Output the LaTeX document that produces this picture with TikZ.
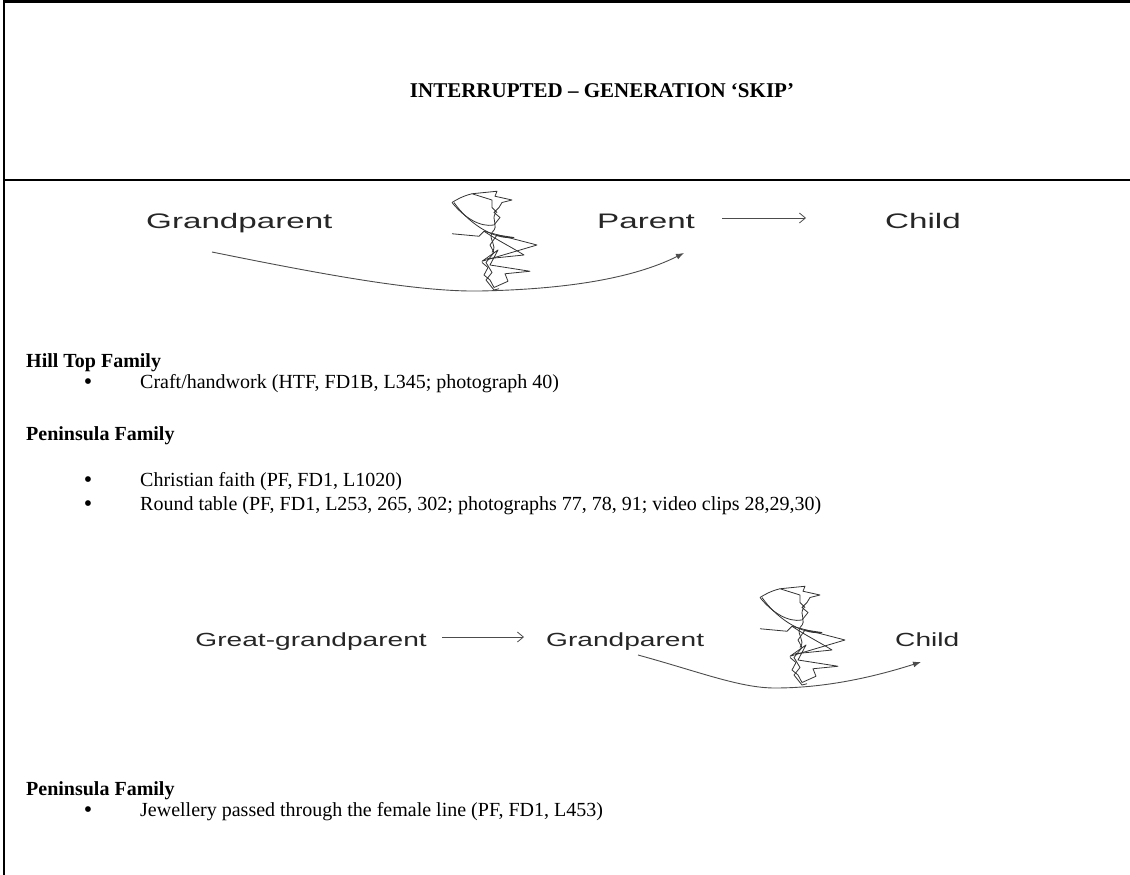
\documentclass[tikz,border=0pt]{standalone}
\usepackage{fontspec}
\usepackage{graphicx}
\setmainfont{Liberation Serif}
\newfontfamily\diagfont{Liberation Sans}
% sans labels of the flow charts are set wide
\newcommand\wideA[1]{\scalebox{1.58}[1]{#1}}
\newcommand\wideB[1]{\scalebox{1.48}[1]{#1}}
\usetikzlibrary{arrows.meta}

\tikzset{
  squiggle/.pic={
    \draw[scrib] (0,35) -- (27,37) -- (32,33) -- (85,44) -- (30,57) -- (46,48)
      -- (38,60) -- (78,65) -- (53,67) -- (56,73) -- (42,78) -- (38,72)
      -- (32,68) -- (36,62) -- (30,58);
    \draw[scrib] (0,10) .. controls (12,22) and (28,30) .. (42,28) -- (48,22)
      -- (42,18) -- (47,14) -- (50,10) -- (60,8) -- (43,5) -- (45,1) -- (20,3)
      -- (40,8) -- (40,14) -- (45,18);
    \draw[scrib] (2,10) .. controls (15,25) and (40,40) .. (62,38) -- (45,36)
      -- (38,44) -- (42,50) -- (34,58) -- (40,66) -- (34,72) -- (42,80) -- (47,79);
    \draw[scrib] (20,3) .. controls (10,5) and (4,8) .. (0,10);
    \draw[scrib] (32,33) .. controls (45,40) and (60,46) .. (72,52) -- (35,55);
    \draw[scrib] (44,18) .. controls (38,24) and (48,28) .. (40,34)
      .. controls (36,40) and (46,44) .. (40,50);
  }
}

\begin{document}
\begin{tikzpicture}[x=1pt,y=-1pt,
  frame/.style={line width=2.6pt},
  titletext/.style={font=\fontsize{21}{24}\selectfont\bfseries, anchor=base, inner sep=0},
  heading/.style={font=\fontsize{20}{23}\selectfont\bfseries, anchor=base west, inner sep=0},
  item/.style={font=\fontsize{20}{23}\selectfont, anchor=base west, inner sep=0},
  bul/.style={font=\fontsize{24}{24}\selectfont, anchor=base, inner sep=0,
    text height=9pt, text depth=0pt},
  genA/.style={font=\diagfont\fontsize{21}{24}\selectfont, inner sep=0, text=black!85},
  genB/.style={font=\diagfont\fontsize{19}{22}\selectfont, inner sep=0, text=black!85},
  flow/.style={draw=black!70, line width=0.8pt, -{Straight Barb[length=6pt,width=10pt]}},
  skip/.style={draw=black!70, line width=0.9pt, -{Latex[length=8pt,width=6pt]}},
  scrib/.style={draw=black!80, line width=0.8pt, line join=round}
]
\useasboundingbox (0,0) rectangle (1130,875);

% table frame
\draw[frame] (4,875) -- (4,1.3) -- (1130,1.3);
\draw[frame] (4,180) -- (1130,180);

% title row
\node[titletext] (title) at (602,98) {INTERRUPTED – GENERATION ‘SKIP’};

% first chain: Grandparent, (break), Parent -> Child
\node[genA, anchor=base west] (gp1) at (146,228) {\wideA{Grandparent}};
\node[genA, anchor=base west] (pa1) at (597,228) {\wideA{Parent}};
\node[genA, anchor=base west] (ch1) at (885,228) {\wideA{Child}};
\pic[yscale=1.25] at (452,190) {squiggle};
\coordinate (a1s) at (722,218);
\coordinate (a1e) at (806,218);
\draw[flow] (a1s) -- (a1e);
\coordinate (k1s) at (212,252);
\coordinate (k1e) at (684,253);
\draw[skip] (k1s) .. controls (330,276) and (420,292) .. (480,291)
  .. controls (580,289) and (640,275) .. (k1e);

% Hill Top Family
\node[heading] (htf) at (26,367) {Hill Top Family};
\node[bul] (b1) at (88,389) {•};
\node[item] (i1) at (140,388) {Craft/handwork (HTF, FD1B, L345; photograph 40)};

% Peninsula Family
\node[heading] (pf1) at (26,440) {Peninsula Family};
\node[bul] (b2) at (88,487) {•};
\node[item] (i2) at (140,486) {Christian faith (PF, FD1, L1020)};
\node[bul] (b3) at (88,511) {•};
\node[item] (i3) at (140,510) {Round table (PF, FD1, L253, 265, 302; photographs 77, 78, 91; video clips 28,29,30)};

% second chain: Great-grandparent -> Grandparent, (break), Child
\node[genB, anchor=base east] (ggp) at (427,646) {\wideB{Great-grandparent}};
\node[genB, anchor=base west] (gp2) at (546,646) {\wideB{Grandparent}};
\node[genB, anchor=base west] (ch2) at (895,646) {\wideB{Child}};
\pic[yscale=1.25] at (760,585) {squiggle};
\coordinate (a2s) at (442,637);
\coordinate (a2e) at (524,637);
\draw[flow] (a2s) -- (a2e);
\coordinate (k2s) at (638,655);
\coordinate (k2e) at (921,662);
\draw[skip] (k2s) .. controls (700,672) and (740,688) .. (775,688)
  .. controls (830,688) and (880,675) .. (k2e);

% Peninsula Family (second)
\node[heading] (pf2) at (26,795) {Peninsula Family};
\node[bul] (b4) at (88,817) {•};
\node[item] (i4) at (140,816) {Jewellery passed through the female line (PF, FD1, L453)};
\end{tikzpicture}
\end{document}
